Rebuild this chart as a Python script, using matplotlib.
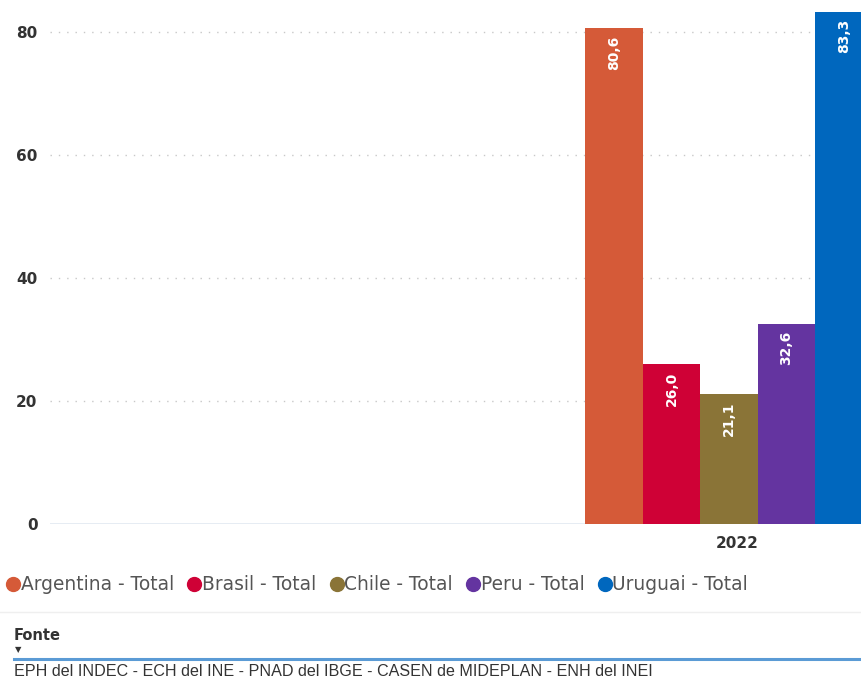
import numpy as np
import matplotlib.pyplot as plt
from matplotlib.lines import Line2D

countries = ['Argentina - Total', 'Brasil - Total', 'Chile - Total', 'Peru - Total', 'Uruguai - Total']
values = [80.6, 26.0, 21.1, 32.6, 83.3]
labels = ['80,6', '26,0', '21,1', '32,6', '83,3']
colors = ['#D55A38', '#CF0136', '#8A7437', '#6434A0', '#0067BE']
year = '2022'
yticks = [0, 20, 40, 60, 80]
source = 'EPH del INDEC - ECH del INE - PNAD del IBGE - CASEN de MIDEPLAN - ENH del INEI'

W, H = 861, 680
fig = plt.figure(figsize=(W / 100, H / 100), dpi=100)

# axes runs past the right edge, the last bar is cut like in the original
ax = fig.add_axes([50 / W, 156 / H, (873 - 50) / W, 524 / H])
x = np.arange(len(values)) - 2
bars = ax.bar(x, values, width=1.0, color=colors)
ax.set_xlim(-2.5 - (585 - 50) / 57.6, 2.5)
ax.set_ylim(0, 85.2)

for b, lab in zip(bars, labels):
    ax.text(b.get_x() + b.get_width() / 2, b.get_height() - 1.2, lab,
            rotation=90, ha='center', va='top', color='white',
            fontsize=10, fontweight='bold')

for s in ax.spines.values():
    s.set_visible(False)
ax.set_yticks(yticks)
ax.set_yticklabels([str(t) for t in yticks], fontsize=11, fontweight='bold', color='#333333')
ax.tick_params(axis='y', length=0, pad=9)
ax.set_xticks([0.15])
ax.set_xticklabels([year], fontsize=11, fontweight='bold', color='#333333')
ax.tick_params(axis='x', length=0, pad=9)
for t in yticks[1:]:
    ax.axhline(t, color='#C8C8C8', lw=1, ls=(0, (1, 5)), zorder=0)
ax.axhline(0, color='#E3EAF2', lw=2, zorder=0)
ax.set_axisbelow(True)

handles = [Line2D([], [], marker='o', ls='', color=c, markersize=10) for c in colors]
fig.legend(handles, countries, loc='center left', bbox_to_anchor=(4 / W, 1 - 585 / H),
           ncol=5, frameon=False, handletextpad=-0.1, columnspacing=0.6,
           handlelength=1.0, borderaxespad=0, borderpad=0,
           prop={'size': 13.4}, labelcolor='#555555')

fig.add_artist(Line2D([0, 1], [1 - 612 / H] * 2, color='#EFEFEF', lw=1))
fig.text(14 / W, 1 - 635 / H, 'Fonte', fontsize=10.5, fontweight='bold',
         color='#333333', va='center')
fig.text(15 / W, 1 - 650 / H, '\u25BC', fontsize=6, color='#333333', va='center')
fig.add_artist(Line2D([14 / W, 1], [1 - 659 / H] * 2, color='#5B9BD5', lw=2.2))
fig.text(14 / W, 1 - 671 / H, source, fontsize=11.6, color='#333333', va='center',
         family='Liberation Sans')

fig.savefig('out.png', dpi=100)
